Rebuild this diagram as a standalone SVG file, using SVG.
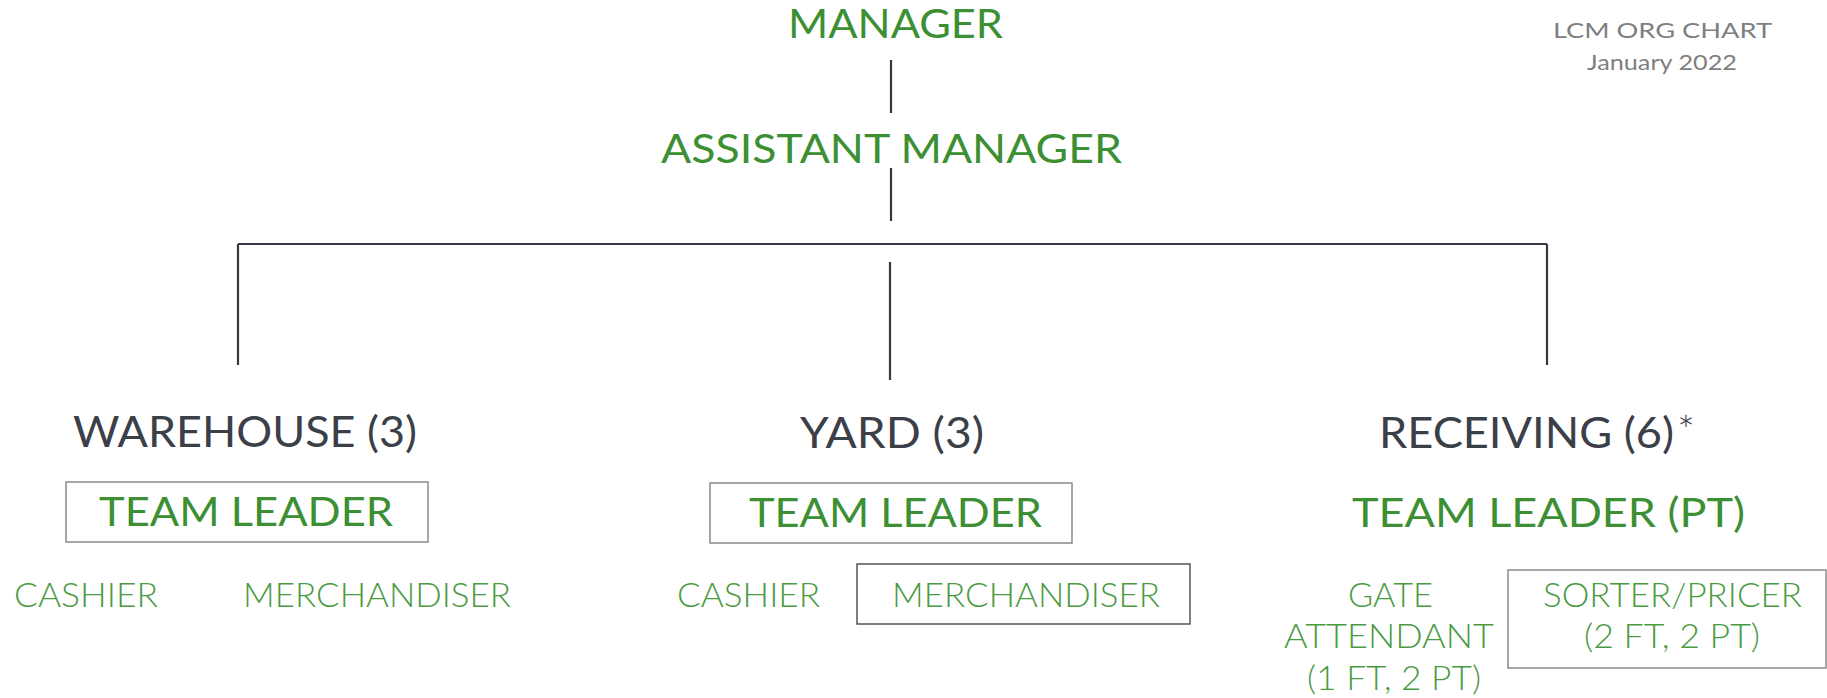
<svg xmlns="http://www.w3.org/2000/svg" width="1827" height="698" viewBox="0 0 1827 698">
<style>
.t{font-family:Lato,"Open Sans","Liberation Sans",sans-serif;}
.g{fill:#3c8f32;font-size:40px;}
.d{fill:#3b4048;font-size:42px;}
.s{fill:#4a9a42;font-size:33px;font-weight:300;}
.h{fill:#7f7f7f;font-size:22px;}
.box{fill:none;stroke:#8a8a8a;stroke-width:1.5;}
.box2{fill:none;stroke:#555;stroke-width:1.5;}
.ln{stroke:#333a44;stroke-width:2.2;fill:none;}
</style>
<rect width="1827" height="698" fill="#fff"/>
<g id="connectors">
<line class="ln" x1="891" y1="60" x2="891" y2="113"/>
<line class="ln" x1="891" y1="168" x2="891" y2="221"/>
<line class="ln" x1="238" y1="244" x2="1547" y2="244"/>
<line class="ln" x1="238" y1="244" x2="238" y2="365"/>
<line class="ln" x1="1547" y1="244" x2="1547" y2="365"/>
<line class="ln" x1="890" y1="262" x2="890" y2="380"/>
</g>
<g id="title">
<text class="t h" x="1553" y="38" textLength="219" lengthAdjust="spacingAndGlyphs">LCM ORG CHART</text>
<text class="t h" x="1587" y="70" textLength="150" lengthAdjust="spacingAndGlyphs">January 2022</text>
</g>
<g id="manager"><text class="t g" x="788" y="38" textLength="215" lengthAdjust="spacingAndGlyphs">MANAGER</text></g>
<g id="assistant-manager"><text class="t g" x="661" y="163" font-size="42" textLength="461" lengthAdjust="spacingAndGlyphs">ASSISTANT MANAGER</text></g>
<g id="warehouse">
<text class="t d" x="73" y="447" textLength="344" lengthAdjust="spacingAndGlyphs">WAREHOUSE (3)</text>
<rect class="box" x="66" y="482" width="362" height="60"/>
<text class="t g" x="99" y="526" textLength="294" lengthAdjust="spacingAndGlyphs">TEAM LEADER</text>
<text class="t s" x="14" y="607" textLength="144" lengthAdjust="spacingAndGlyphs">CASHIER</text>
<text class="t s" x="243" y="607" textLength="268" lengthAdjust="spacingAndGlyphs">MERCHANDISER</text>
</g>
<g id="yard">
<text class="t d" x="800" y="448" textLength="184" lengthAdjust="spacingAndGlyphs">YARD (3)</text>
<rect class="box" x="710" y="483" width="362" height="60"/>
<text class="t g" x="749" y="527" textLength="293" lengthAdjust="spacingAndGlyphs">TEAM LEADER</text>
<text class="t s" x="677" y="607" textLength="143" lengthAdjust="spacingAndGlyphs">CASHIER</text>
<rect class="box2" x="857" y="564" width="333" height="60"/>
<text class="t s" x="892" y="607" textLength="268" lengthAdjust="spacingAndGlyphs">MERCHANDISER</text>
</g>
<g id="receiving">
<text class="t d" x="1379" y="448" textLength="295" lengthAdjust="spacingAndGlyphs">RECEIVING (6)</text>
<text class="t d" x="1677" y="446" font-size="30" font-weight="300">*</text>
<text class="t g" x="1352" y="527" textLength="393" lengthAdjust="spacingAndGlyphs">TEAM LEADER (PT)</text>
<text class="t s" x="1348" y="607" textLength="85" lengthAdjust="spacingAndGlyphs">GATE</text>
<text class="t s" x="1284" y="648" textLength="210" lengthAdjust="spacingAndGlyphs">ATTENDANT</text>
<text class="t s" x="1307" y="690" textLength="174" lengthAdjust="spacingAndGlyphs">(1 FT, 2 PT)</text>
<rect class="box" x="1508" y="570" width="318" height="98"/>
<text class="t s" x="1543" y="607" textLength="259" lengthAdjust="spacingAndGlyphs">SORTER/PRICER</text>
<text class="t s" x="1584" y="648" textLength="176" lengthAdjust="spacingAndGlyphs">(2 FT, 2 PT)</text>
</g>
</svg>
